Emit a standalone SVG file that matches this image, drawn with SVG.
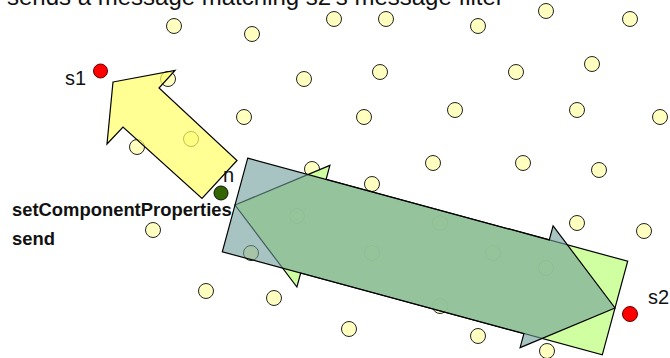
<svg xmlns="http://www.w3.org/2000/svg" width="670" height="358" viewBox="0 0 670 358">
<style>
.dot{fill:#ffffbf;stroke:#222;stroke-width:1}
.lbl{font-family:"Liberation Sans",Arial,sans-serif;fill:#111}
.big{font-size:20px}
.bold{font-size:18.4px;font-weight:bold}
.arrow{stroke:#000;stroke-width:1.2;stroke-linejoin:miter}
</style>
<rect width="670" height="358" fill="#fff"/>
<text class="lbl" x="7" y="5" font-size="24">sends a message matching s2's message filter</text>
<g id="points">
<circle class="dot" cx="174" cy="26" r="7.5"/>
<circle class="dot" cx="252" cy="34" r="7.5"/>
<circle class="dot" cx="334" cy="19" r="7.5"/>
<circle class="dot" cx="386" cy="19" r="7.5"/>
<circle class="dot" cx="478" cy="26" r="7.5"/>
<circle class="dot" cx="546" cy="11" r="7.5"/>
<circle class="dot" cx="630" cy="19" r="7.5"/>
<circle class="dot" cx="168" cy="79" r="7.5"/>
<circle class="dot" cx="304" cy="79" r="7.5"/>
<circle class="dot" cx="380" cy="72" r="7.5"/>
<circle class="dot" cx="516" cy="72" r="7.5"/>
<circle class="dot" cx="592" cy="64" r="7.5"/>
<circle class="dot" cx="137" cy="147" r="7.5"/>
<circle class="dot" cx="191" cy="139" r="7.5"/>
<circle class="dot" cx="244" cy="117" r="7.5"/>
<circle class="dot" cx="364" cy="117" r="7.5"/>
<circle class="dot" cx="455" cy="110" r="7.5"/>
<circle class="dot" cx="577" cy="110" r="7.5"/>
<circle class="dot" cx="660" cy="117" r="7.5"/>
<circle class="dot" cx="312" cy="169" r="7.5"/>
<circle class="dot" cx="372" cy="184" r="7.5"/>
<circle class="dot" cx="433" cy="163" r="7.5"/>
<circle class="dot" cx="523" cy="163" r="7.5"/>
<circle class="dot" cx="599" cy="170" r="7.5"/>
<circle class="dot" cx="153" cy="230" r="7.5"/>
<circle class="dot" cx="297" cy="216" r="7.5"/>
<circle class="dot" cx="440" cy="223" r="7.5"/>
<circle class="dot" cx="577" cy="223" r="7.5"/>
<circle class="dot" cx="644" cy="231" r="7.5"/>
<circle class="dot" cx="251" cy="253" r="7.5"/>
<circle class="dot" cx="372" cy="253" r="7.5"/>
<circle class="dot" cx="493" cy="253" r="7.5"/>
<circle class="dot" cx="546" cy="268" r="7.5"/>
<circle class="dot" cx="206" cy="291" r="7.5"/>
<circle class="dot" cx="274" cy="298" r="7.5"/>
<circle class="dot" cx="440" cy="306" r="7.5"/>
<circle class="dot" cx="349" cy="329" r="7.5"/>
<circle class="dot" cx="478" cy="336" r="7.5"/>
<circle class="dot" cx="547" cy="351" r="7.5"/>
</g>
<g id="connectors">
<polygon id="reply-arrow" class="arrow" fill="#ccff99" fill-opacity="0.92" points="235,205 329.9,165.4 326.1,179.4 627.7,261.2 602.3,354.8 300.7,273 296.9,287"/>
<polygon id="send-arrow" class="arrow" fill="#6e9d99" fill-opacity="0.6" points="247.7,158.2 549.3,239.9 553.1,225.9 615,308 520.1,347.6 523.9,333.6 222.3,251.8"/>
<polygon id="set-arrow" class="arrow" stroke-width="1" fill="#ffff66" fill-opacity="0.7" points="113,82 175,70.5 159,88 237,160.5 202,198.5 123,127 107,144"/>
</g>
<g id="s1">
<circle cx="100.5" cy="71" r="7" fill="#ff0000" stroke="#600" stroke-width="1"/>
<text class="lbl big" x="65" y="85">s1</text>
</g>
<g id="s2">
<circle cx="630" cy="314" r="7.5" fill="#ff0000" stroke="#600" stroke-width="1"/>
<text class="lbl big" x="648" y="304">s2</text>
</g>
<g id="n">
<circle cx="221" cy="193" r="7" fill="#336600" stroke="#111" stroke-width="1"/>
<text class="lbl big" x="223" y="182">n</text>
</g>
<g id="operations">
<text class="lbl bold" x="12" y="216">setComponentProperties</text>
<text class="lbl bold" x="12" y="245">send</text>
</g>
</svg>
